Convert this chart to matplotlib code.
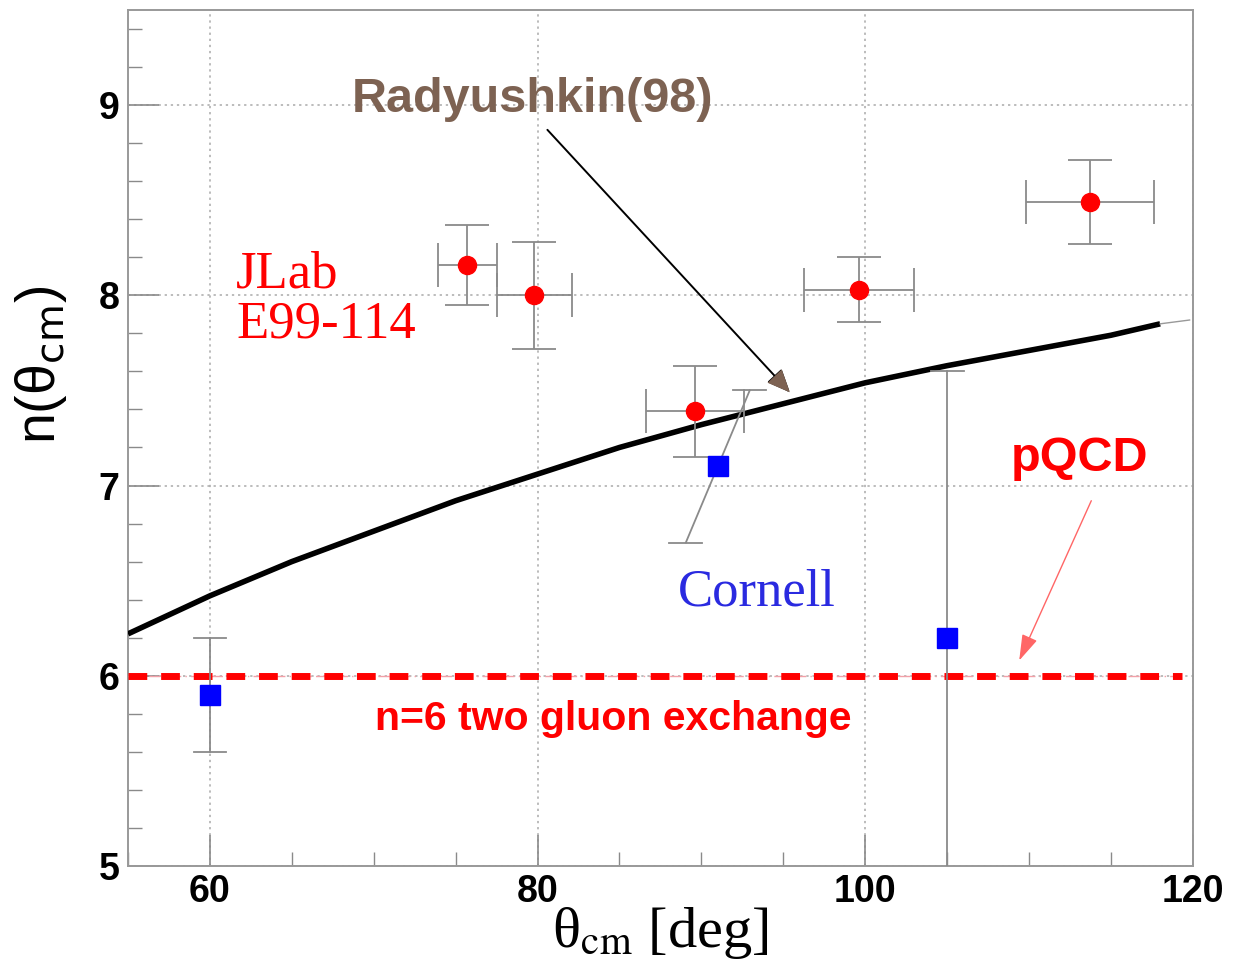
import matplotlib
matplotlib.use('Agg')
import matplotlib.pyplot as plt
from matplotlib.ticker import MultipleLocator

# JLab E99-114 points
jlab_x = [75.7, 79.8, 89.6, 99.6, 113.7]
jlab_n = [8.16, 8.00, 7.39, 8.03, 8.49]
jlab_xerr = [1.8, 2.3, 3.0, 3.35, 3.9]
jlab_nerr = [0.21, 0.28, 0.24, 0.17, 0.22]

# Cornell points (middle one has a slanted bar in the original)
cornell_x = [60.0, 91.0, 105.0]
cornell_n = [5.9, 7.1, 6.2]
cornell_nerr = [0.3, 0.4, 1.4]
cornell_tilt = [0.0, 1.95, 0.0]

# Radyushkin (98) curve
rad_x = [55, 60, 65, 70, 75, 80, 85, 90, 95, 100, 105, 110, 115, 118]
rad_n = [6.22, 6.42, 6.60, 6.76, 6.92, 7.06, 7.20, 7.32, 7.43, 7.54, 7.63, 7.71, 7.79, 7.85]
rad_tail_x = [118, 119.8]
rad_tail_n = [7.85, 7.87]

pqcd_n = 6

BROWN = '#7d6252'
GREY = '#8a8a8a'
SANS = 'Liberation Sans'
SERIF = 'Liberation Serif'

fig = plt.figure(figsize=(12.44, 9.6), dpi=100)
ax = fig.add_axes([0.1029, 0.098, 0.856, 0.8916])

ax.set_xlim(55, 120)
ax.set_ylim(5, 9.5)
ax.xaxis.set_major_locator(MultipleLocator(20))
ax.xaxis.set_minor_locator(MultipleLocator(5))
ax.yaxis.set_major_locator(MultipleLocator(1))
ax.yaxis.set_minor_locator(MultipleLocator(0.2))
ax.tick_params(which='both', direction='in', color=GREY, top=False, right=False)
ax.tick_params(which='major', length=22, width=1.2, labelsize=27, pad=6)
ax.tick_params(which='minor', length=10, width=1.0)
for lab in ax.get_xticklabels() + ax.get_yticklabels():
    lab.set_fontweight('bold')
    lab.set_family(SANS)
for s in ax.spines.values():
    s.set_color('#999999')
    s.set_linewidth(1.4)
ax.grid(True, which='major', color='#aaaaaa', linestyle=(0, (1.5, 2.5)), linewidth=1.1)
ax.set_axisbelow(True)

# theory line and pQCD
ax.axhline(pqcd_n, xmax=0.99, color='#f2a0a8', lw=1.0, dashes=(8, 3, 1, 3), zorder=3)
ax.axhline(pqcd_n, xmax=0.99, color='#ff0000', lw=5, dashes=(2.7, 2.0), zorder=3)
ax.plot(rad_x, rad_n, color='black', lw=4, solid_capstyle='butt', zorder=4)
ax.plot(rad_tail_x, rad_tail_n, color='#999999', lw=1, zorder=4)

# JLab data
ax.errorbar(jlab_x, jlab_n, xerr=jlab_xerr, yerr=jlab_nerr, fmt='o', color='#ff0000',
            ms=13, ecolor=GREY, elinewidth=1.3, capsize=16, capthick=1.3, zorder=5)

# Cornell data
for x, n, e, t in zip(cornell_x, cornell_n, cornell_nerr, cornell_tilt):
    ax.plot([x - t, x + t], [n - e, n + e], color=GREY, lw=1.3, zorder=4)
    ax.plot([x + t - 1.0, x + t + 1.0], [n + e, n + e], color=GREY, lw=1.3, zorder=4)
    ax.plot([x - t - 1.0, x - t + 1.0], [n - e, n - e], color=GREY, lw=1.3, zorder=4)
ax.plot(cornell_x, cornell_n, 's', color='#0000ff', ms=14, zorder=6)

# labels
ax.set_xlabel(r'θ$_{\mathrm{cm}}$ [deg]', family=SERIF, fontsize=42, math_fontfamily='stix',
              labelpad=-4)
ax.set_ylabel(r'n(θ$_{\mathrm{cm}}$)', family=SANS, fontsize=40, math_fontfamily='dejavusans')
ax.yaxis.set_label_coords(-0.055, 0.585)

# annotations
ax.text(79.7, 9.03, 'Radyushkin(98)', color=BROWN, fontsize=35, fontweight='bold',
        family=SANS, ha='center', va='center')
ax.annotate('', xy=(95.4, 7.49), xytext=(80.6, 8.87),
            arrowprops=dict(arrowstyle='-|>,head_length=1.4,head_width=0.6', color='black',
                            lw=1.4, shrinkA=0, shrinkB=0))
ax.annotate('', xy=(95.4, 7.49), xytext=(94.2, 7.6),
            arrowprops=dict(arrowstyle='-|>,head_length=1.6,head_width=0.7', color=BROWN,
                            lw=0, shrinkA=0, shrinkB=0))
ax.text(61.6, 7.98, 'JLab\nE99-114', color='#ff0000', fontsize=38, family=SERIF,
        ha='left', va='center', linespacing=1.05)
ax.text(93.4, 6.44, 'Cornell', color='#2a2ae0', fontsize=38, family=SERIF,
        ha='center', va='center')
ax.text(113.1, 7.14, 'pQCD', color='#ff0000', fontsize=35, fontweight='bold',
        family=SANS, ha='center', va='center')
ax.annotate('', xy=(109.4, 6.08), xytext=(113.8, 6.92),
            arrowprops=dict(arrowstyle='-|>,head_length=1.6,head_width=0.5', color='#ff6666',
                            lw=1.0, shrinkA=0, shrinkB=0))
ax.text(84.6, 5.77, 'n=6 two gluon exchange', color='#ff0000', fontsize=29.5,
        fontweight='bold', family=SANS, ha='center', va='center')

fig.savefig('out.png', dpi=100)
